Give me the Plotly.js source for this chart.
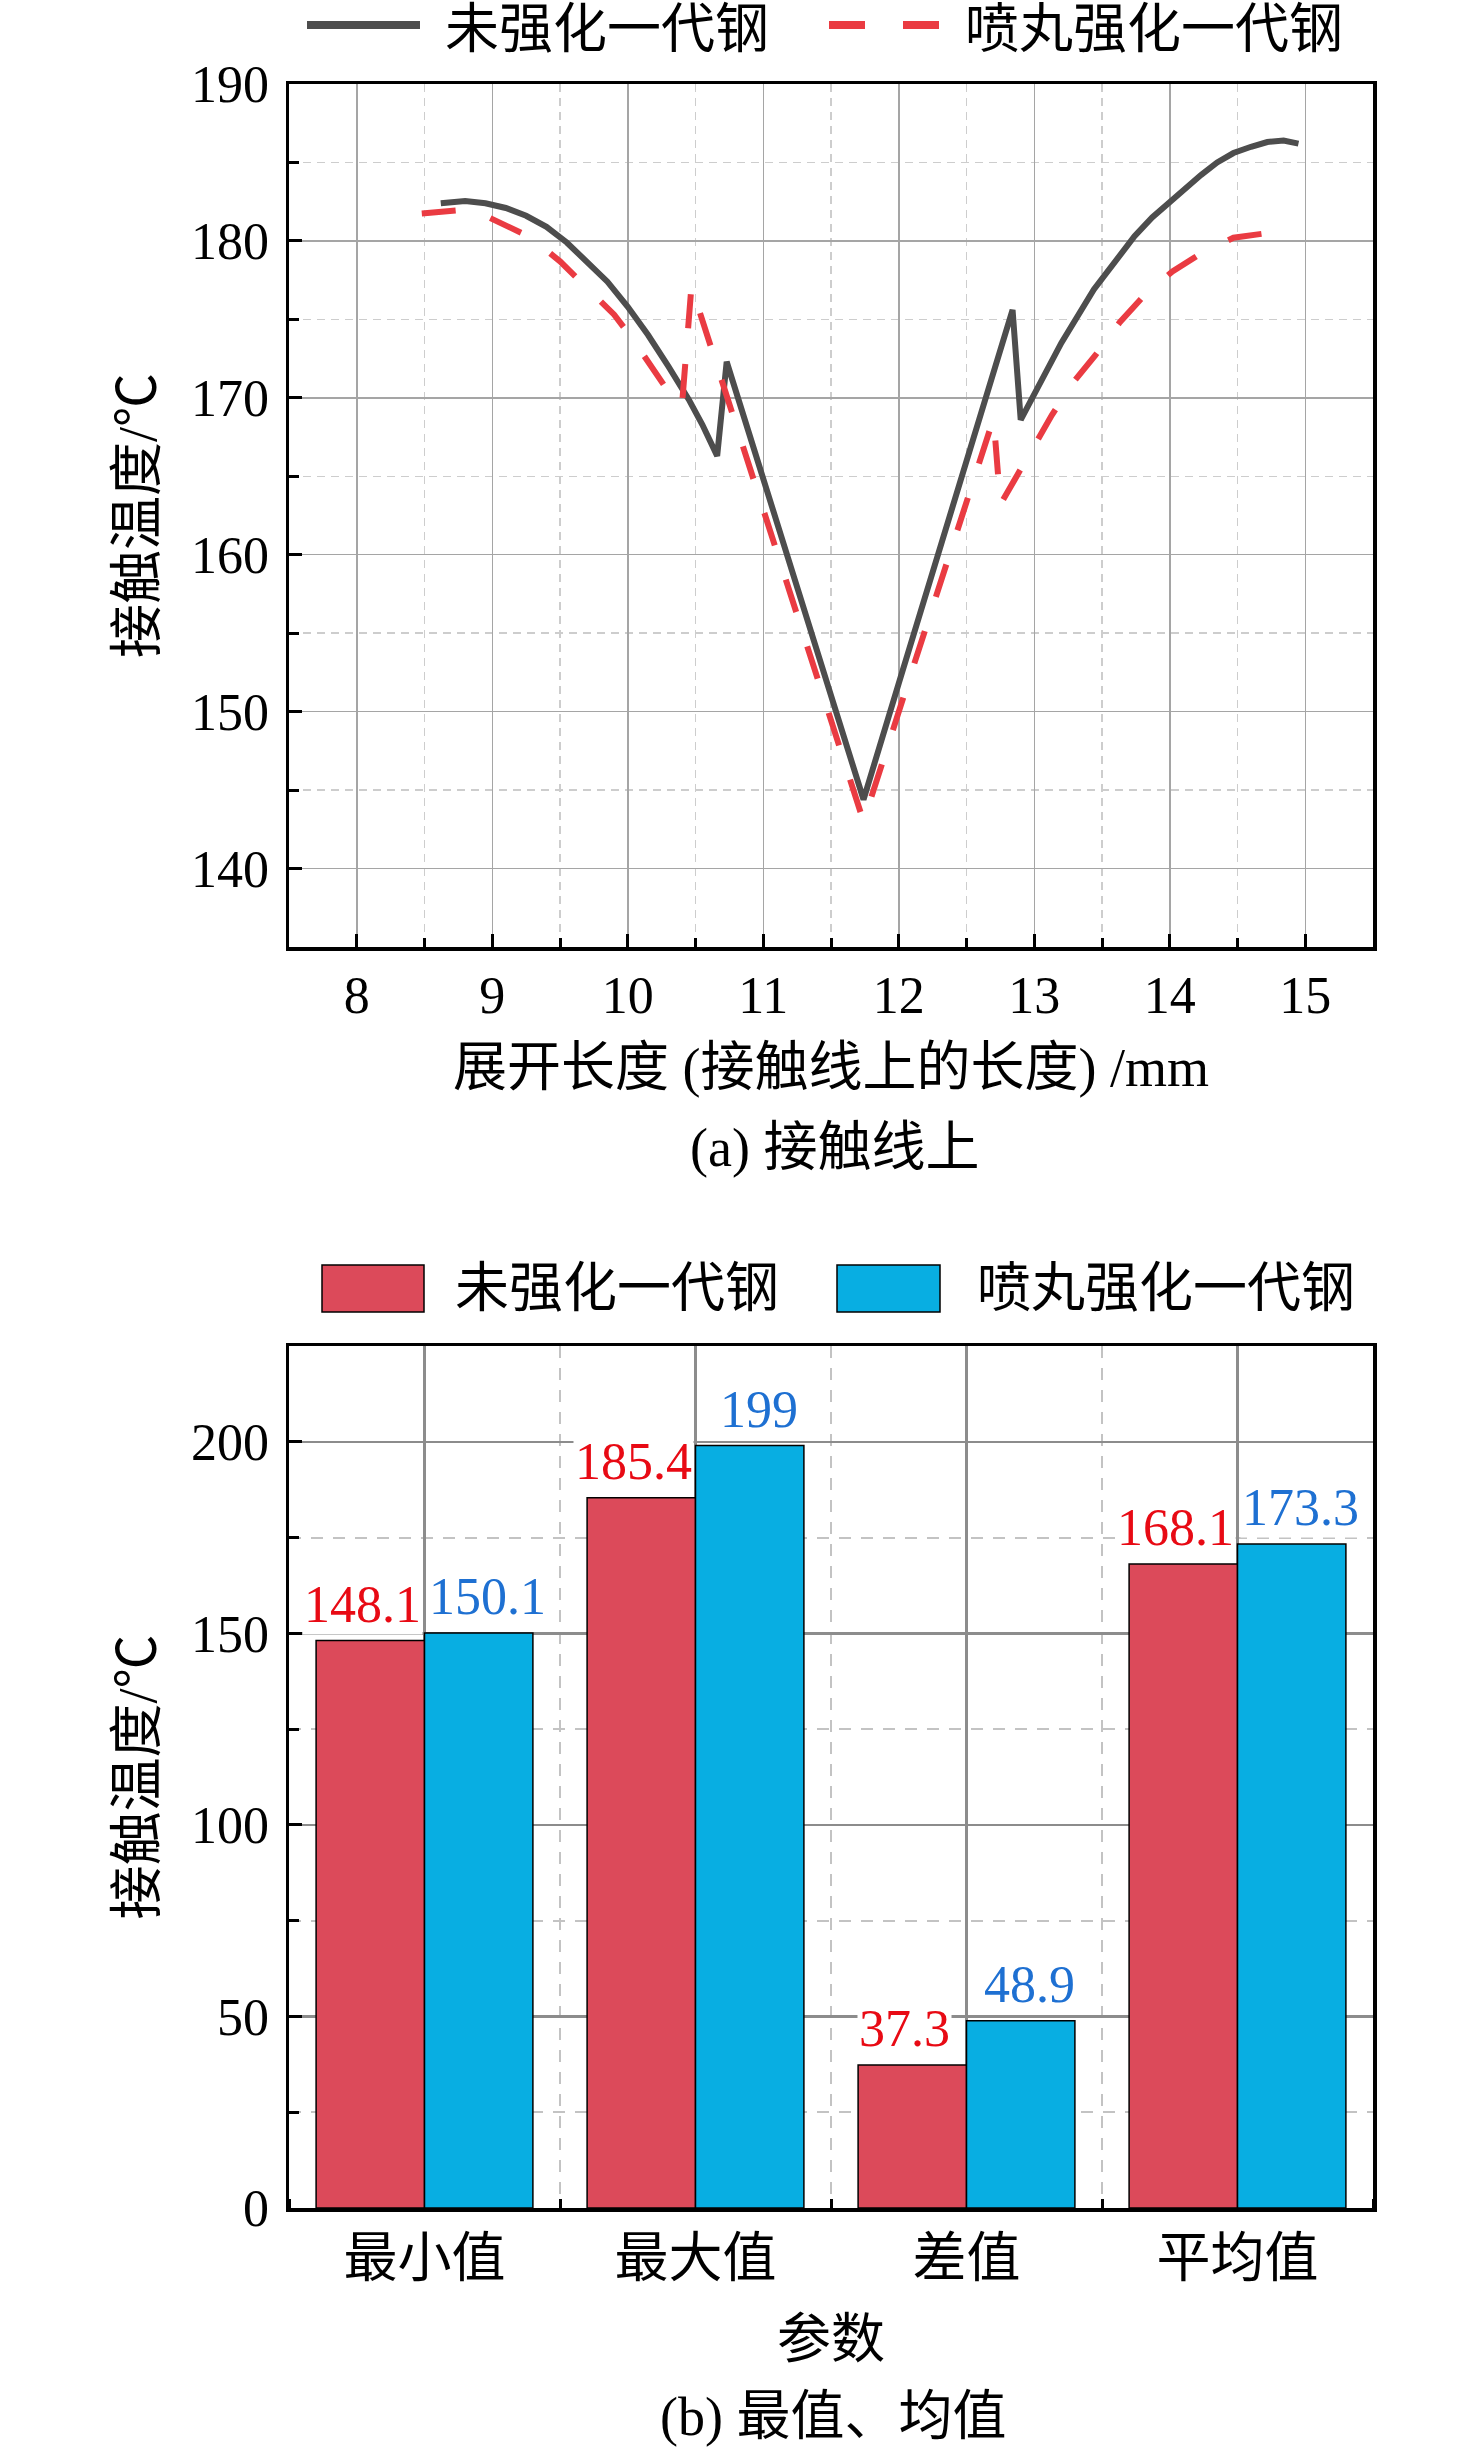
<!DOCTYPE html>
<html>
<head>
<meta charset="utf-8">
<script src="https://cdn.plot.ly/plotly-3.0.1.min.js"></script>
<style>
  html, body { margin: 0; padding: 0; background: #fff; }
  #chart { width: 1476px; height: 2451px; }
</style>
</head>
<body>
<div id="chart"></div>
<script>
// (a) contact temperature along the contact line
var untreatedX = [8.62, 8.70, 8.80, 8.95, 9.10, 9.25, 9.40, 9.55, 9.70, 9.85, 10.00, 10.15, 10.30, 10.45, 10.55, 10.66, 10.73, 11.20, 11.74, 12.00, 12.30, 12.60, 12.84, 12.90, 13.00, 13.20, 13.44, 13.60, 13.74, 13.87, 14.01, 14.10, 14.23, 14.35, 14.47, 14.60, 14.72, 14.84, 14.95];
var untreatedY = [182.4, 182.5, 182.55, 182.4, 182.1, 181.6, 180.9, 179.9, 178.7, 177.4, 175.8, 174.0, 172.0, 169.9, 168.3, 166.3, 172.3, 159.3, 144.4, 151.8, 160.2, 168.8, 175.6, 168.6, 170.3, 173.5, 176.9, 178.7, 180.3, 181.5, 182.6, 183.3, 184.2, 185.0, 185.6, 186.0, 186.3, 186.4, 186.2];
var shotX = [8.48, 8.62, 8.75, 8.90, 9.02, 9.15, 9.28, 9.50, 9.70, 9.90, 10.04, 10.20, 10.30, 10.40, 10.47, 10.72, 11.05, 11.47, 11.74, 12.06, 12.47, 12.70, 12.75, 12.86, 12.99, 13.13, 13.28, 13.45, 13.63, 13.82, 14.02, 14.23, 14.47, 14.72];
var shotY = [181.75, 181.9, 181.95, 181.8, 181.3, 180.85, 180.25, 178.7, 177.0, 175.3, 173.7, 171.6, 170.4, 169.5, 177.1, 170.4, 161.5, 150.2, 143.0, 151.6, 162.5, 168.7, 163.2, 164.9, 166.9, 168.9, 170.9, 172.7, 174.8, 176.6, 178.05, 179.2, 180.2, 180.5];

// (b) extreme and mean values
var params = ['最小值', '最大值', '差值', '平均值'];
var untreatedStats = [148.1, 185.4, 37.3, 168.1];
var shotStats = [150.1, 199, 48.9, 173.3];

var seriesNames = ['未强化一代钢', '喷丸强化一代钢'];

var W = 1476, H = 2451;
var FONT = 'Liberation Serif, Noto Sans CJK SC, serif';
var lineDark = 'rgb(77,77,77)';
var lineRed = 'rgb(234,59,66)';
var barRed = 'rgb(220,74,90)';
var barBlue = 'rgb(8,174,226)';
var labelRed = 'rgb(232,10,20)';
var labelBlue = 'rgb(30,112,210)';

function px(x) { return x / W; }
function py(y) { return 1 - y / H; }

var xDom = [px(289), px(1373)];

var trace1 = {
  x: untreatedX, y: untreatedY,
  type: 'scatter', mode: 'lines',
  name: seriesNames[0],
  line: {color: lineDark, width: 6},
  xaxis: 'x', yaxis: 'y'
};
var trace2 = {
  x: shotX, y: shotY,
  type: 'scatter', mode: 'lines',
  name: seriesNames[1],
  line: {color: lineRed, width: 6, dash: '34px,36px'},
  xaxis: 'x', yaxis: 'y'
};
var idx = params.map(function (p, i) { return i; });
var trace3 = {
  x: idx, y: untreatedStats,
  type: 'bar', name: seriesNames[0],
  marker: {color: barRed, line: {color: '#000', width: 1.5}},
  xaxis: 'x2', yaxis: 'y2'
};
var trace4 = {
  x: idx, y: shotStats,
  type: 'bar', name: seriesNames[1],
  marker: {color: barBlue, line: {color: '#000', width: 1.5}},
  xaxis: 'x2', yaxis: 'y2'
};

var tickFont = {family: FONT, size: 52, color: '#000'};
var titleFont = {family: FONT, size: 54, color: '#000'};

function frame(extra) {
  var base = {
    showline: true, linewidth: 3.5, linecolor: '#000', mirror: true,
    ticks: 'inside', ticklen: 13, tickwidth: 3, tickcolor: '#000',
    zeroline: false, tickfont: tickFont, ticklabelstandoff: 6,
    showgrid: true
  };
  for (var k in extra) base[k] = extra[k];
  return base;
}

// bar value labels
var annotations = [];
untreatedStats.forEach(function (v, i) {
  annotations.push({
    xref: 'x2', yref: 'y2', x: i, y: v, xshift: -62, yshift: 6,
    yanchor: 'bottom', text: String(v), showarrow: false,
    font: {family: FONT, size: 52, color: labelRed},
    bgcolor: '#fff', borderpad: 1
  });
});
shotStats.forEach(function (v, i) {
  annotations.push({
    xref: 'x2', yref: 'y2', x: i, y: v, xshift: 63, yshift: 6,
    yanchor: 'bottom', text: String(v), showarrow: false,
    font: {family: FONT, size: 52, color: labelBlue},
    bgcolor: '#fff', borderpad: 1
  });
});

// legend texts and captions
annotations.push(
  {xref: 'paper', yref: 'paper', x: px(443), y: py(30), xanchor: 'left', yanchor: 'middle',
   text: seriesNames[0], showarrow: false, font: titleFont},
  {xref: 'paper', yref: 'paper', x: px(963), y: py(30), xanchor: 'left', yanchor: 'middle',
   text: seriesNames[1], showarrow: false, font: titleFont},
  {xref: 'paper', yref: 'paper', x: px(453), y: py(1289), xanchor: 'left', yanchor: 'middle',
   text: seriesNames[0], showarrow: false, font: titleFont},
  {xref: 'paper', yref: 'paper', x: px(975), y: py(1289), xanchor: 'left', yanchor: 'middle',
   text: seriesNames[1], showarrow: false, font: titleFont},
  {xref: 'paper', yref: 'paper', x: px(834), y: py(1148), xanchor: 'center', yanchor: 'middle',
   text: '(a) 接触线上', showarrow: false, font: titleFont},
  {xref: 'paper', yref: 'paper', x: px(833), y: py(2417), xanchor: 'center', yanchor: 'middle',
   text: '(b) 最值、均值', showarrow: false, font: titleFont}
);

var shapes = [
  {type: 'line', xref: 'paper', yref: 'paper', x0: px(307), x1: px(420), y0: py(25), y1: py(25),
   line: {color: lineDark, width: 8}},
  {type: 'line', xref: 'paper', yref: 'paper', x0: px(829), x1: px(939), y0: py(25), y1: py(25),
   line: {color: lineRed, width: 8, dash: '36px,38px'}},
  {type: 'rect', xref: 'paper', yref: 'paper', x0: px(322), x1: px(424), y0: py(1265), y1: py(1312),
   fillcolor: barRed, line: {color: '#000', width: 1.5}},
  {type: 'rect', xref: 'paper', yref: 'paper', x0: px(837), x1: px(940), y0: py(1265), y1: py(1312),
   fillcolor: barBlue, line: {color: '#000', width: 1.5}}
];

var layout = {
  width: W, height: H,
  margin: {l: 0, r: 0, t: 0, b: 0},
  paper_bgcolor: '#fff', plot_bgcolor: '#fff',
  showlegend: false,
  barmode: 'group', bargap: 0.2, bargroupgap: 0,
  xaxis: frame({
    domain: xDom, anchor: 'y', range: [7.5, 15.5], dtick: 1, tick0: 0,
    ticklabelstandoff: 0,
    gridcolor: 'rgb(165,165,165)', gridwidth: 1.5,
    minor: {dtick: 0.5, ticks: 'inside', ticklen: 9, tickwidth: 3, tickcolor: '#000',
            showgrid: true, gridcolor: 'rgb(205,205,205)', gridwidth: 1.5, griddash: '8px,6px'},
    title: {text: '展开长度 (接触线上的长度) /mm', font: titleFont, standoff: 26}
  }),
  yaxis: frame({
    domain: [py(947), py(84)], anchor: 'x', range: [135, 190], dtick: 10, tick0: 0,
    gridcolor: 'rgb(165,165,165)', gridwidth: 1.5,
    minor: {dtick: 5, ticks: 'inside', ticklen: 10, tickwidth: 3, tickcolor: '#000',
            showgrid: true, gridcolor: 'rgb(205,205,205)', gridwidth: 1.5, griddash: '8px,6px'},
    title: {text: '接触温度/℃', font: titleFont, standoff: 18}
  }),
  xaxis2: frame({
    domain: xDom, anchor: 'y2', range: [-0.5, 3.5],
    tickmode: 'array', tickvals: idx, ticktext: params, ticks: '',
    ticklabelstandoff: 1,
    gridcolor: 'rgb(140,140,140)', gridwidth: 2.5,
    minor: {tickmode: 'linear', tick0: 0.5, dtick: 1, ticks: 'inside', ticklen: 9, tickwidth: 3, tickcolor: '#000',
            showgrid: true, gridcolor: 'rgb(195,195,195)', gridwidth: 2, griddash: '12px,10px'},
    tickfont: titleFont,
    title: {text: '参数', font: titleFont, standoff: 33}
  }),
  yaxis2: frame({
    domain: [py(2208), py(1346)], anchor: 'x2', range: [0, 225], dtick: 50, tick0: 0,
    gridcolor: 'rgb(140,140,140)', gridwidth: 2.5,
    minor: {dtick: 25, ticks: 'inside', ticklen: 10, tickwidth: 3, tickcolor: '#000',
            showgrid: true, gridcolor: 'rgb(195,195,195)', gridwidth: 2, griddash: '12px,10px'},
    title: {text: '接触温度/℃', font: titleFont, standoff: 18}
  }),
  annotations: annotations,
  shapes: shapes
};

Plotly.newPlot('chart', [trace1, trace2, trace3, trace4], layout, {staticPlot: true, displayModeBar: false});
</script>
</body>
</html>
